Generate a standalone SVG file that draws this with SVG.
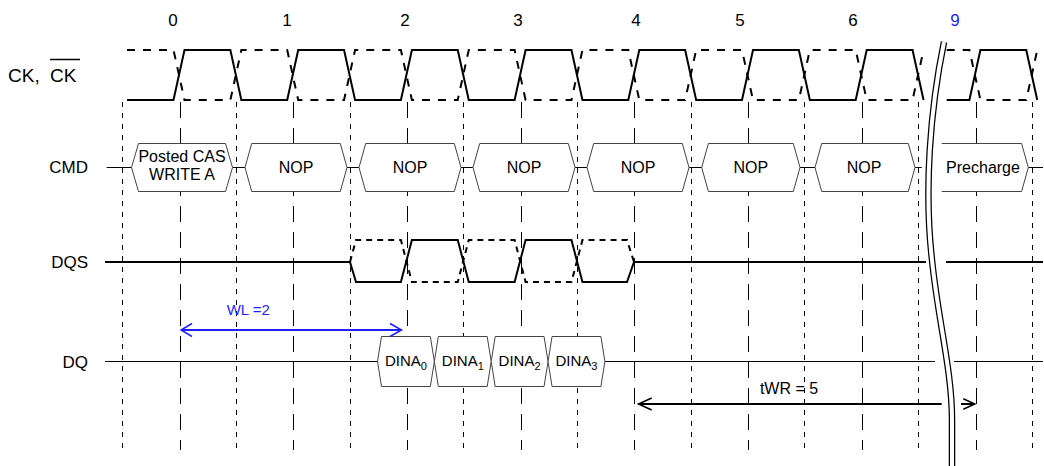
<svg xmlns="http://www.w3.org/2000/svg" width="1044" height="466" viewBox="0 0 1044 466">
<style>
  .lbl { font-family: "Liberation Sans", Arial, sans-serif; font-size: 17px; fill: #000; }
  .num { font-family: "Liberation Sans", Arial, sans-serif; font-size: 17px; fill: #000; text-anchor: middle; }
  .cmdt { font-family: "Liberation Sans", Arial, sans-serif; font-size: 16px; fill: #000; text-anchor: middle; }
  .dqt { font-family: "Liberation Sans", Arial, sans-serif; font-size: 15px; fill: #000; text-anchor: middle; }
  .box { fill: #fff; stroke: #444; stroke-width: 1; }
  .gl { stroke: #000; stroke-width: 1; fill: none; stroke-dasharray: 16 10; }
  .gs { stroke: #000; stroke-width: 1; fill: none; stroke-dasharray: 5 6; }
  .sig { stroke: #000; stroke-width: 2; fill: none; stroke-linejoin: miter; }
  .sigd { stroke: #000; stroke-width: 2; fill: none; stroke-dasharray: 8 8; }
  .sigd2 { stroke: #000; stroke-width: 2; fill: none; stroke-dasharray: 6 5; }
  .thin { stroke: #000; stroke-width: 1; fill: none; }
  .blue { fill: #1f1fff; }
</style>

<!-- grid lines -->
<g id="grid">
  <line class="gs" x1="122.5" y1="102" x2="122.5" y2="450"/>
  <line class="gl" x1="180.5" y1="102" x2="180.5" y2="450"/>
  <line class="gs" x1="236.5" y1="102" x2="236.5" y2="450"/>
  <line class="gl" x1="293.5" y1="102" x2="293.5" y2="450"/>
  <line class="gs" x1="350.5" y1="102" x2="350.5" y2="450"/>
  <line class="gl" x1="407.5" y1="102" x2="407.5" y2="450"/>
  <line class="gs" x1="463.5" y1="102" x2="463.5" y2="450"/>
  <line class="gl" x1="521.5" y1="102" x2="521.5" y2="450"/>
  <line class="gs" x1="577.5" y1="102" x2="577.5" y2="450"/>
  <line class="gl" x1="634.5" y1="102" x2="634.5" y2="450"/>
  <line class="gs" x1="691.5" y1="102" x2="691.5" y2="450"/>
  <line class="gl" x1="748.5" y1="102" x2="748.5" y2="450"/>
  <line class="gs" x1="804.5" y1="102" x2="804.5" y2="450"/>
  <line class="gl" x1="862.5" y1="102" x2="862.5" y2="450"/>
  <line class="gs" x1="918.5" y1="102" x2="918.5" y2="450"/>
  <line class="gl" x1="976.5" y1="102" x2="976.5" y2="450"/>
  <line class="gs" x1="1032.5" y1="102" x2="1032.5" y2="450"/>
</g>

<!-- cycle numbers -->
<g id="cycles">
  <text class="num" x="173" y="26">0</text>
  <text class="num" x="287" y="26">1</text>
  <text class="num" x="405" y="26">2</text>
  <text class="num" x="518" y="26">3</text>
  <text class="num" x="636" y="26">4</text>
  <text class="num" x="740" y="26">5</text>
  <text class="num" x="853" y="26">6</text>
  <text class="num blue" x="955" y="26">9</text>
</g>

<!-- row labels -->
<g id="labels">
  <text class="lbl" x="8" y="81.5" style="font-size:19px">CK,</text>
  <text class="lbl" x="50" y="81.5" style="font-size:19px">CK</text>
  <line x1="50" y1="59.5" x2="80" y2="59.5" stroke="#000" stroke-width="1.5"/>
  <text class="lbl" x="88" y="173" text-anchor="end">CMD</text>
  <text class="lbl" x="88" y="268" text-anchor="end">DQS</text>
  <text class="lbl" x="88" y="368" text-anchor="end">DQ</text>
</g>

<!-- clock -->
<g id="ck">
  <path class="sig" d="M127,100 H173.5 L184.5,50 H230.35 L241.35,100 H287.2 L298.2,50 H344.05 L355.05,100 H400.9 L411.9,50 H457.75 L468.75,100 H514.6 L525.6,50 H571.45 L582.45,100 H628.3 L639.3,50 H685.15 L696.15,100 H742 L753,50 H798.85 L809.85,100 H855.7 L866.7,50 H912.55 L923.55,100"/>
  <path class="sig" d="M946.7,100 H969.4 L980.4,50 H1026.25 L1037.25,100"/>
  <path class="sigd" d="M127,50 H173.5 L184.5,100 H230.35 L241.35,50 H287.2 L298.2,100 H344.05 L355.05,50 H400.9 L411.9,100 H457.75 L468.75,50 H514.6 L525.6,100 H571.45 L582.45,50 H628.3 L639.3,100 H685.15 L696.15,50 H742 L753,100 H798.85 L809.85,50 H855.7 L866.7,100 H912.55 L923.55,50"/>
  <path class="sigd" d="M946.7,50 H969.4 L980.4,100 H1026.25 L1037.25,50"/>
</g>

<!-- CMD -->
<g id="cmd-line">
  <path class="thin" d="M106.7,167.5 H921.7 M1028.3,167.5 H1043"/>
</g>
<g id="cmd-cas">
  <polygon class="box" points="131.5,167.5 138.5,143.5 225.5,143.5 232.5,167.5 225.5,191.5 138.5,191.5"/>
  <text class="cmdt" x="182" y="162">Posted CAS</text>
  <text class="cmdt" x="182" y="180">WRITE A</text>
</g>
<g id="cmd-nop1">
  <polygon class="box" points="245,167.5 251.7,143.5 340.3,143.5 347,167.5 340.3,191.5 251.7,191.5"/>
  <text class="cmdt" x="296" y="173">NOP</text>
</g>
<g id="cmd-nop2">
  <polygon class="box" points="359,167.5 365.7,143.5 454.3,143.5 461,167.5 454.3,191.5 365.7,191.5"/>
  <text class="cmdt" x="410" y="173">NOP</text>
</g>
<g id="cmd-nop3">
  <polygon class="box" points="473,167.5 479.7,143.5 568.3,143.5 575,167.5 568.3,191.5 479.7,191.5"/>
  <text class="cmdt" x="524" y="173">NOP</text>
</g>
<g id="cmd-nop4">
  <polygon class="box" points="587,167.5 593.7,143.5 682.3,143.5 689,167.5 682.3,191.5 593.7,191.5"/>
  <text class="cmdt" x="638" y="173">NOP</text>
</g>
<g id="cmd-nop5">
  <polygon class="box" points="701.7,167.5 708.4,143.5 793.3,143.5 800,167.5 793.3,191.5 708.4,191.5"/>
  <text class="cmdt" x="750.8" y="173">NOP</text>
</g>
<g id="cmd-nop6">
  <polygon class="box" points="815,167.5 821.7,143.5 908.3,143.5 915,167.5 908.3,191.5 821.7,191.5"/>
  <text class="cmdt" x="864" y="173">NOP</text>
</g>
<g id="cmd-pre">
  <path class="box" d="M941.7,143.5 H1021.6 L1028.3,167.5 L1021.6,191.5 H941.7"/>
  <text class="cmdt" x="983" y="173">Precharge</text>
</g>

<!-- DQS -->
<g id="dqs">
  <path class="sig" d="M105,262 H350 L356,282 H400.9 L411.9,240 H457.75 L468.75,282 H514.6 L525.6,240 H571.45 L582.45,282 H627 L634,262 H926 M946,262 H1043"/>
  <path class="sigd2" d="M350,262 L356,240 H400.9 L411.9,282 H457.75 L468.75,240 H514.6 L525.6,282 H571.45 L582.45,240 H627 L634,262"/>
</g>

<!-- DQ -->
<g id="dq-line">
  <path class="thin" d="M105,361.5 H377.5 M604.9,361.5 H935 M954,361.5 H1043"/>
</g>
<g id="dq0">
  <polygon class="box" points="377.5,361.5 381.5,336.5 430.35,336.5 434.35,361.5 430.35,386.5 381.5,386.5"/>
  <text class="dqt" x="405.9" y="366">DINA<tspan font-size="11" dy="4">0</tspan></text>
</g>
<g id="dq1">
  <polygon class="box" points="434.35,361.5 438.35,336.5 487.2,336.5 491.2,361.5 487.2,386.5 438.35,386.5"/>
  <text class="dqt" x="462.8" y="366">DINA<tspan font-size="11" dy="4">1</tspan></text>
</g>
<g id="dq2">
  <polygon class="box" points="491.2,361.5 495.2,336.5 544.05,336.5 548.05,361.5 544.05,386.5 495.2,386.5"/>
  <text class="dqt" x="519.6" y="366">DINA<tspan font-size="11" dy="4">2</tspan></text>
</g>
<g id="dq3">
  <polygon class="box" points="548.05,361.5 552.05,336.5 600.9,336.5 604.9,361.5 600.9,386.5 552.05,386.5"/>
  <text class="dqt" x="576.5" y="366">DINA<tspan font-size="11" dy="4">3</tspan></text>
</g>

<!-- annotations -->
<g id="connectors">
  <g id="wl" stroke="#1f1fff" fill="none">
    <line x1="181" y1="330" x2="401.5" y2="330" stroke-width="2"/>
    <polyline points="192,323.5 181,330 192,336.5" stroke-width="1.5"/>
    <polyline points="390,323.5 401.5,330 390,336.5" stroke-width="1.5"/>
  </g>
  <g id="twr" stroke="#000" fill="none">
    <line x1="638.5" y1="404" x2="941.7" y2="404" stroke-width="2"/>
    <polyline points="651.7,398 638.5,404 651.7,410" stroke-width="1.5"/>
    <line x1="961" y1="404" x2="974.5" y2="404" stroke-width="2"/>
    <polyline points="963.3,398.7 974.8,404 963.3,409.3" stroke-width="1.5"/>
  </g>
</g>
<text class="cmdt blue" x="248.3" y="315" style="font-size:15px;fill:#1f1fff">WL =2</text>
<text class="cmdt" x="789" y="394">tWR = 5</text>

<!-- break -->
<g id="break">
  <path d="M944,42 C930,110 924,190 932,260 C938,320 952,370 952,420 L952,470" fill="none" stroke="#000" stroke-width="6.5"/>
  <path d="M944,42 C930,110 924,190 932,260 C938,320 952,370 952,420 L952,470" fill="none" stroke="#fff" stroke-width="4"/>
</g>
</svg>
